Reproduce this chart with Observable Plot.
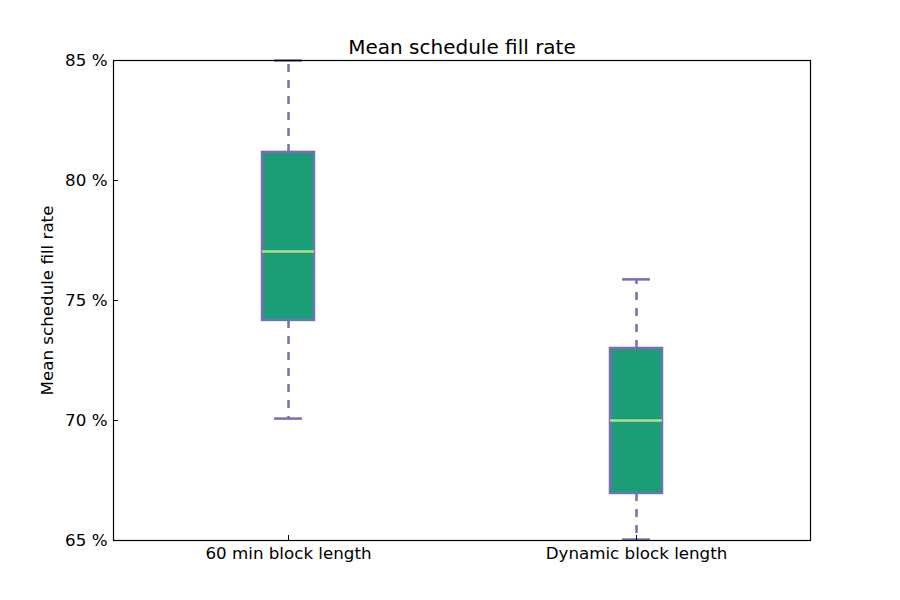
<!DOCTYPE html>
<html>
<head>
<meta charset="utf-8">
<script src="https://cdn.jsdelivr.net/npm/d3@7"></script>
<script src="https://cdn.jsdelivr.net/npm/@observablehq/plot@0.6"></script>
<style>
  body { margin: 0; background: #fff; }
  svg { font-family: "DejaVu Sans", sans-serif; }
</style>
</head>
<body>
<div id="chart"></div>
<script>
const categories = ["60 min block length", "Dynamic block length"];
const whiskerLow = [70.08, 65.04];
const q1 = [74.17, 66.96];
const median = [77.04, 70.0];
const q3 = [81.17, 73.0];
const whiskerHigh = [85.0, 75.88];
const yTicks = [65, 70, 75, 80, 85];

const data = categories.map((c, i) => ({
  cat: c, lo: whiskerLow[i], q1: q1[i], med: median[i], q3: q3[i], hi: whiskerHigh[i]
}));

const purple = "#7570b3";
const green = "#1b9e77";
const light = "#b2df8a";

const plot = Plot.plot({
  width: 900,
  height: 600,
  marginLeft: 113,
  marginRight: 90,
  marginTop: 60,
  marginBottom: 60,
  style: { fontFamily: "DejaVu Sans, sans-serif", fontSize: "16.7px", color: "#000", background: "#fff" },
  x: { domain: categories, type: "band", paddingInner: 0.851, paddingOuter: 0.4255, label: null },
  y: { domain: [65, 85], label: null },
  marks: [
    // whiskers
    Plot.ruleX(data, { x: "cat", y1: "q3", y2: "hi", stroke: purple, strokeWidth: 2.5, strokeDasharray: "8,8" }),
    Plot.ruleX(data, { x: "cat", y1: "q1", y2: "lo", stroke: purple, strokeWidth: 2.5, strokeDasharray: "8,8" }),
    // caps
    Plot.tickY(data, { x: "cat", y: "hi", stroke: purple, strokeWidth: 2.5, insetLeft: 12, insetRight: 12 }),
    Plot.tickY(data, { x: "cat", y: "lo", stroke: purple, strokeWidth: 2.5, insetLeft: 12, insetRight: 12 }),
    // boxes
    Plot.barY(data, { x: "cat", y1: "q1", y2: "q3", fill: green, stroke: purple, strokeWidth: 2.5 }),
    // medians
    Plot.tickY(data, { x: "cat", y: "med", stroke: light, strokeWidth: 2.5 }),
    // axes
    Plot.axisY({ ticks: yTicks, tickSize: 0, tickPadding: 6, tickFormat: d => d + " %", fontSize: 16.7, label: null }),
    Plot.axisY({ ticks: yTicks, tickSize: -5, tickFormat: () => "", label: null }),
    Plot.axisX({ tickSize: 0, tickPadding: 7, fontSize: 16.7, label: null }),
    Plot.axisX({ tickSize: -5, tickFormat: () => "", label: null }),
    Plot.frame({ stroke: "#000", strokeWidth: 1.2 }),
    // title
    Plot.text(["Mean schedule fill rate"], { frameAnchor: "top", lineAnchor: "bottom", dy: -7, fontSize: 20 }),
    // y label
    Plot.text(["Mean schedule fill rate"], { frameAnchor: "left", textAnchor: "middle", rotate: -90, dx: -66, fontSize: 16.7 })
  ]
});
document.getElementById("chart").appendChild(plot);
</script>
</body>
</html>
